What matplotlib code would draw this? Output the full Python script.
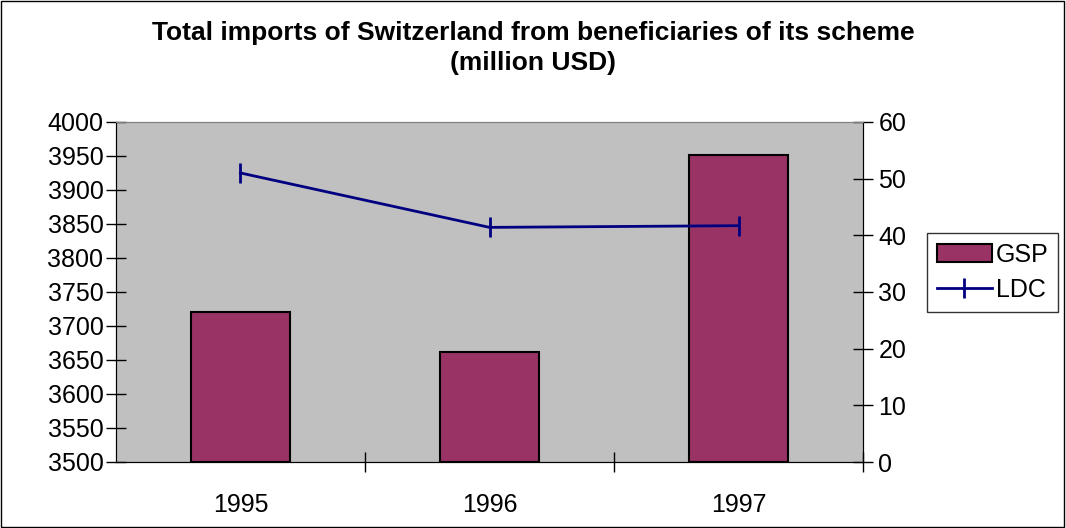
import matplotlib.pyplot as plt
from matplotlib.patches import Rectangle

years = ["1995", "1996", "1997"]
gsp = [3720, 3662, 3952]
ldc = [51.0, 41.4, 41.7]

plt.rcParams["font.family"] = ["Liberation Sans", "DejaVu Sans"]

fig = plt.figure(figsize=(10.66, 5.28), dpi=100)
ax = fig.add_axes([0.1088, 0.125, 0.7008, 0.644])
ax.set_facecolor("#c0c0c0")

x = range(len(years))
bars = ax.bar(x, [v - 3500 for v in gsp], bottom=3500, width=0.4,
              color="#993366", edgecolor="black", linewidth=1.5, label="GSP", zorder=2)
ax.set_ylim(3500, 4000)
ax.set_xlim(-0.5, 2.5)
ax.set_yticks(range(3500, 4001, 50))
ax.set_xticks([0.5, 1.5, 2.5], minor=False)
ax.set_xticklabels([])
ax.set_xticks(list(x), minor=True)
ax.set_xticklabels(years, minor=True)
ax.tick_params(axis="x", which="major", direction="inout", length=14, width=1)
ax.tick_params(axis="x", which="minor", length=0, labelsize=18, pad=22)
ax.tick_params(axis="y", direction="inout", length=14, width=1, labelsize=18, pad=2)

ax2 = ax.twinx()
line, = ax2.plot(list(x), ldc, color="#000080", linewidth=2, marker="|",
                 markersize=14, markeredgewidth=2, label="LDC", zorder=3)
ax2.set_ylim(0, 60)
ax2.set_yticks(range(0, 61, 10))
ax2.tick_params(axis="y", direction="inout", length=14, width=1, labelsize=18, pad=4)

for a in (ax, ax2):
    a.spines["top"].set_color("#808080")
    a.spines["left"].set_color("black")
    a.spines["bottom"].set_color("black")
    a.spines["right"].set_color("black")

fig.suptitle("Total imports of Switzerland from beneficiaries of its scheme\n(million USD)",
             fontsize=19, fontweight="bold", y=0.96, linespacing=1.3)

fig.legend([bars, line], ["GSP", "LDC"], loc="upper left",
           bbox_to_anchor=(0.8696, 0.559), fontsize=18, frameon=True, fancybox=False,
           edgecolor="black", handlelength=2.2, handletextpad=0.15, borderpad=0.4,
           labelspacing=0.45, borderaxespad=0)

fig.patches.append(Rectangle((0.001, 0.002), 0.997, 0.996, transform=fig.transFigure,
                             fill=False, edgecolor="black", linewidth=1))

fig.savefig("out.png", dpi=100)
